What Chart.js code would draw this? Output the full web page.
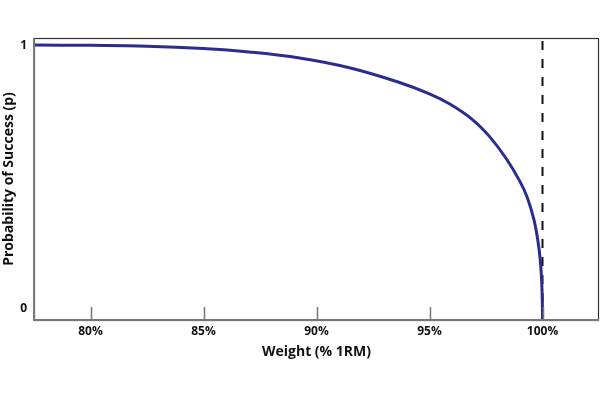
<!DOCTYPE html>
<html>
<head>
<meta charset="utf-8">
<script src="https://cdn.jsdelivr.net/npm/chart.js@4/dist/chart.umd.min.js"></script>
<style>
html,body{margin:0;padding:0;background:#fff;}
#wrap{width:600px;height:400px;}
</style>
</head>
<body>
<div id="wrap"><canvas id="c" width="600" height="400"></canvas></div>
<script>
// Data
const weights = [77.5, 80, 82.5, 85, 87, 89.25, 91.5, 93.67, 95, 95.9, 96.9, 97.65, 98.4, 99, 99.33, 99.62, 99.79, 99.9, 99.96, 99.99, 100];
const probability = [1.0, 0.999, 0.996, 0.987, 0.974, 0.951, 0.913, 0.858, 0.815, 0.776, 0.717, 0.653, 0.568, 0.482, 0.42, 0.337, 0.26, 0.184, 0.108, 0.032, -0.045];
const oneRM = [100, 100];
const oneRMLine = [-0.045, 1.027];
const xTicks = [80, 85, 90, 95, 100];
const yTicks = [0, 1];

const FONT = "'Open Sans', sans-serif";

const innerTicks = {
  id: 'innerTicks',
  afterDatasetsDraw(chart) {
    const xs = chart.scales.x;
    const ctx = chart.ctx;
    const b = chart.chartArea.bottom;
    ctx.save();
    ctx.strokeStyle = '#777';
    ctx.lineWidth = 1.5;
    xTicks.forEach(v => {
      const px = Math.round(xs.getPixelForValue(v)) + 0.5;
      ctx.beginPath();
      ctx.moveTo(px, b);
      ctx.lineTo(px, b - 13);
      ctx.stroke();
    });
    ctx.restore();
  }
};

const frame = {
  id: 'frame',
  afterDraw(chart) {
    const a = chart.chartArea;
    const ctx = chart.ctx;
    ctx.save();
    ctx.strokeStyle = '#333';
    ctx.lineWidth = 1.2;
    ctx.strokeRect(a.left + 0.5, a.top + 0.5, a.right - a.left - 1, a.bottom - a.top);
    ctx.strokeStyle = '#777';
    ctx.lineWidth = 2;
    ctx.beginPath();
    ctx.moveTo(a.left, a.top);
    ctx.lineTo(a.left, a.bottom);
    ctx.lineTo(a.right, a.bottom);
    ctx.stroke();
    ctx.restore();
  }
};

new Chart(document.getElementById('c'), {
  type: 'line',
  data: {
    datasets: [
      {
        data: oneRM.map((x, i) => ({x, y: oneRMLine[i]})),
        borderColor: '#111',
        borderWidth: 2,
        borderDash: [9, 9],
        pointRadius: 0,
        fill: false,
        order: 2
      },
      {
        data: weights.map((x, i) => ({x, y: probability[i]})),
        borderColor: '#2b2d8e',
        borderWidth: 3,
        pointRadius: 0,
        fill: false,
        tension: 0.4,
        order: 1
      }
    ]
  },
  options: {
    responsive: false,
    animation: false,
    events: [],
    layout: { padding: { top: 38, right: 1, bottom: 40, left: 0 } },
    plugins: { legend: { display: false }, tooltip: { enabled: false } },
    scales: {
      x: {
        type: 'linear',
        min: 77.5,
        max: 102.5,
        afterBuildTicks: s => { s.ticks = xTicks.map(v => ({value: v})); },
        afterFit: s => { s.height = 40; },
        grid: { display: false, drawTicks: false },
        border: { display: false },
        ticks: {
          padding: 4,
          color: '#111',
          font: { family: FONT, size: 12, weight: 'bold' },
          callback: v => v + '%'
        },
        title: {
          display: true,
          text: 'Weight (% 1RM)',
          color: '#111',
          padding: { top: 0, bottom: 0 },
          font: { family: FONT, size: 14, weight: 'bold' }
        }
      },
      y: {
        type: 'linear',
        min: -0.045,
        max: 1.027,
        afterBuildTicks: s => { s.ticks = yTicks.map(v => ({value: v})); },
        afterFit: s => { s.width = 34; },
        grid: { display: false, drawTicks: false },
        border: { display: false },
        ticks: {
          padding: 7,
          color: '#111',
          font: { family: FONT, size: 12, weight: 'bold' },
          callback: v => String(v)
        },
        title: {
          display: true,
          text: 'Probability of Success (p)',
          color: '#111',
          padding: { top: 1, bottom: 0 },
          font: { family: FONT, size: 14, weight: 'bold' }
        }
      }
    }
  },
  plugins: [innerTicks, frame]
});
</script>
</body>
</html>
